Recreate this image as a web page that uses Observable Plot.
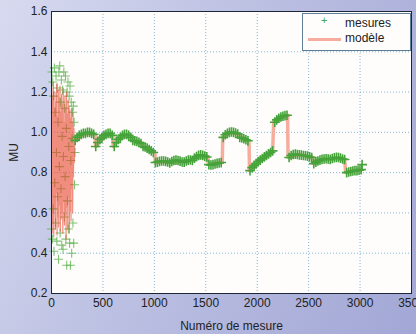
<!DOCTYPE html>
<html>
<head>
<meta charset="utf-8">
<script src="https://cdn.jsdelivr.net/npm/d3@7"></script>
<script src="https://cdn.jsdelivr.net/npm/@observablehq/plot@0.6"></script>
<style>
  html, body { margin: 0; padding: 0; }
  #wrap { position: relative; width: 416px; height: 334px;
    background: linear-gradient(115deg, #d7daef 0%, #bcc0e2 45%, #a2a7d6 100%); }
  #legend { position: absolute; left: 302px; top: 13px; width: 107px; height: 36px;
    background: #fffdfb; border: 1px solid #5f7e96; font: 12px "Liberation Sans", Arial, sans-serif; color: #222; }
  #legend .row { position: absolute; left: 0; width: 100%; height: 16px; }
  #legend .lbl { position: absolute; left: 42px; top: 0; }
  #legend .plus { position: absolute; left: 18px; top: -2px; color: #4aa83c; font-size: 11px; }
  #legend .line { position: absolute; left: 5px; top: 7px; width: 33px; height: 3px; background: #f6ad9e; }
</style>
</head>
<body>
<div id="wrap"><div id="chart"></div>
  <div id="legend">
    <div class="row" style="top:2px"><span class="plus">+</span><span class="lbl">mesures</span></div>
    <div class="row" style="top:17px"><span class="line"></span><span class="lbl">modèle</span></div>
  </div>
</div>
<script>
const xTicks = [0, 500, 1000, 1500, 2000, 2500, 3000, 3500];
const yTicks = [0.2, 0.4, 0.6, 0.8, 1.0, 1.2, 1.4, 1.6];

// Measurements, unstable start (numéro, MU)
const chaosX = [0,4,8,12,16,20,24,28,32,36,40,44,48,52,56,60,64,68,72,76,80,84,88,92,96,100,104,108,112,116,120,124,128,132,136,140,144,148,152,156,160,164,168,172,176,180,184,188,192,196,200,204,208,212,216,220,224,228];
const chaosY = [0.52,1.30,0.47,1.25,0.62,1.18,0.41,1.32,0.75,1.10,0.55,1.28,0.90,0.46,1.22,0.68,1.05,0.37,1.30,0.83,1.33,0.50,1.15,0.72,1.26,0.44,0.98,1.21,0.42,0.88,1.30,0.58,1.12,0.78,1.28,0.47,1.02,0.34,1.20,0.66,1.25,0.52,0.93,1.18,0.45,1.23,0.34,0.86,1.15,0.40,0.97,1.10,0.55,1.13,0.45,1.05,0.74,0.90];

// Measurements, stable part
const stableX = [230,250,270,290,310,330,350,370,390,410,430,450,470,490,510,530,550,570,590,610,630,650,670,690,710,730,750,770,790,810,830,850,870,890,910,930,950,970,990,1010,1030,1050,1070,1090,1110,1130,1150,1170,1190,1210,1230,1250,1270,1290,1310,1330,1350,1370,1390,1410,1430,1450,1470,1490,1510,1530,1550,1570,1590,1610,1630,1650,1670,1690,1710,1730,1750,1770,1790,1810,1830,1850,1870,1890,1910,1930,1950,1970,1990,2010,2030,2050,2070,2090,2110,2130,2150,2170,2190,2210,2230,2250,2270,2290,2310,2330,2350,2370,2390,2410,2430,2450,2470,2490,2510,2530,2550,2570,2590,2610,2630,2650,2670,2690,2710,2730,2750,2770,2790,2810,2830,2850,2870,2890,2910,2930,2950,2970,2990,3010,3020];
const stableY = [0.96,0.975,0.985,0.99,0.995,0.995,1.0,1.0,0.995,0.99,0.93,0.95,0.965,0.975,0.985,0.99,0.995,0.995,0.985,0.93,0.95,0.965,0.975,0.985,0.99,0.99,0.985,0.975,0.96,0.958,0.955,0.95,0.945,0.93,0.927,0.922,0.915,0.908,0.9,0.85,0.852,0.856,0.858,0.858,0.856,0.853,0.848,0.855,0.86,0.862,0.86,0.857,0.853,0.852,0.858,0.862,0.863,0.86,0.872,0.88,0.886,0.888,0.886,0.882,0.878,0.84,0.838,0.84,0.843,0.846,0.848,0.85,0.975,0.988,0.995,1.0,1.002,1.0,0.997,0.992,0.975,0.972,0.968,0.963,0.958,0.81,0.825,0.835,0.845,0.855,0.862,0.87,0.878,0.885,0.893,0.9,0.908,1.05,1.062,1.07,1.076,1.08,1.083,1.085,0.875,0.885,0.89,0.892,0.89,0.888,0.887,0.885,0.884,0.882,0.878,0.875,0.845,0.852,0.858,0.862,0.866,0.868,0.869,0.868,0.866,0.87,0.874,0.876,0.875,0.872,0.868,0.865,0.80,0.803,0.806,0.808,0.81,0.81,0.812,0.815,0.84];

// Model, unstable start
const modelChaosX = [2,6,10,14,18,22,26,30,34,38,42,46,50,54,58,62,66,70,74,78,82,86,90,94,98,102,106,110,114,118,122,126,130,134,138,142,146,150,154,158,162,166,170,174,178,182,186,190,194,198,202,206,210,214,218,222,226];
const modelChaosY = [1.22,0.50,1.18,0.55,1.25,0.48,1.12,0.62,1.20,0.52,1.15,0.70,1.24,0.49,1.08,0.58,1.21,0.53,1.17,0.64,1.23,0.51,1.10,0.57,1.19,0.60,1.14,0.50,1.22,0.66,1.05,0.54,1.18,0.59,1.12,0.47,1.20,0.63,1.09,0.52,1.16,0.68,1.13,0.50,1.11,0.61,1.07,0.56,1.12,0.72,1.05,0.60,1.10,0.78,1.02,0.85,0.97];

// Model, stable part
const modelX = [226,230,300,370,425,430,500,560,595,600,680,740,785,790,885,890,1005,1010,1140,1145,1275,1280,1385,1390,1520,1525,1660,1665,1740,1825,1830,1920,1925,2040,2150,2160,2230,2295,2300,2400,2540,2545,2650,2720,2725,2850,2860,2950,3015];
const modelY = [0.97,0.96,0.985,0.995,0.985,0.93,0.975,0.99,0.985,0.93,0.975,0.985,0.97,0.955,0.945,0.925,0.9,0.85,0.855,0.85,0.855,0.852,0.86,0.872,0.878,0.84,0.85,0.975,1.0,0.99,0.975,0.958,0.81,0.865,0.908,1.05,1.075,1.085,0.875,0.89,0.875,0.845,0.868,0.866,0.87,0.865,0.80,0.81,0.815];

const chaos = chaosX.map((x, i) => ({x, y: chaosY[i]}));
const stable = stableX.map((x, i) => ({x, y: stableY[i]}));
const modelChaos = modelChaosX.map((x, i) => ({x, y: modelChaosY[i]}));
const model = modelX.map((x, i) => ({x, y: modelY[i]}));

const chart = Plot.plot({
  width: 416,
  height: 334,
  marginLeft: 51,
  marginRight: 5,
  marginTop: 11,
  marginBottom: 41,
  style: {background: "transparent", fontFamily: "'Liberation Sans', Arial, sans-serif", fontSize: "12px", color: "#222"},
  x: {domain: [0, 3500]},
  y: {domain: [0.2, 1.6]},
  marks: [
    Plot.frame({fill: "#fffdfb", stroke: "none"}),
    Plot.gridX(xTicks, {stroke: "#5aa0c8", strokeOpacity: 0.75, strokeDasharray: "1,2"}),
    Plot.gridY(yTicks, {stroke: "#5aa0c8", strokeOpacity: 0.75, strokeDasharray: "1,2"}),
    Plot.dot(chaos, {x: "x", y: "y", symbol: "plus", r: 3, stroke: "#55ad48", strokeWidth: 1.1, strokeOpacity: 0.75}),
    Plot.line(modelChaos, {x: "x", y: "y", stroke: "#e8422c", strokeWidth: 1.2, strokeOpacity: 0.6}),
    Plot.line(model, {x: "x", y: "y", stroke: "#f6ad9e", strokeWidth: 3.5}),
    Plot.dot(stable, {x: "x", y: "y", symbol: "plus", r: 3.2, stroke: "#45a33a", strokeWidth: 1.6}),
    Plot.frame({stroke: "#1c2838"}),
    Plot.axisX(xTicks, {tickSize: 0, tickPadding: 5, tickFormat: d3.format("d"), label: "Numéro de mesure", labelAnchor: "center", labelArrow: "none", labelOffset: 36}),
    Plot.axisY(yTicks, {tickSize: 0, tickPadding: 4, tickFormat: d3.format(".1f"), label: "MU", labelAnchor: "center", labelArrow: "none", labelOffset: 42})
  ]
});
document.getElementById("chart").appendChild(chart);
</script>
</body>
</html>
